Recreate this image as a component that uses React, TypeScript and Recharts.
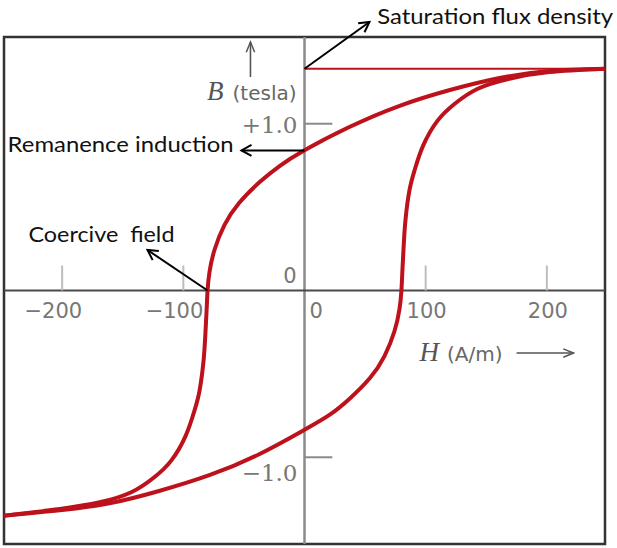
import React from 'react';
import { ComposedChart, Line, XAxis, YAxis, ReferenceLine, ReferenceDot, ReferenceArea } from 'recharts';

// Axis domains
const hDomain: [number, number] = [-248, 248];
const bDomain: [number, number] = [-1.52, 1.52];

// Descending branch (from +saturation to -saturation)
const upperH = [248, 202, 161, 120, 78, 37, 0, -20.6, -37, -54, -66, -74.3, -78.4, -80, -80.8, -81.8, -83.3, -86.6, -90.8, -98, -110, -124, -143, -169, -202, -248];
const upperB = [1.33, 1.316, 1.274, 1.202, 1.106, 0.98, 0.841, 0.746, 0.65, 0.525, 0.393, 0.243, 0.111, 0, -0.12, -0.26, -0.42, -0.6, -0.72, -0.87, -1.02, -1.12, -1.21, -1.27, -1.31, -1.35];

// Ascending branch (from -saturation to +saturation)
const lowerH = [-248, -202, -161, -120, -78, -37, 0, 20.6, 37, 54, 66, 74.3, 78.4, 80, 80.8, 81.8, 83.3, 86.6, 90.8, 98, 110, 124, 143, 169, 202, 248];
const lowerB = [-1.35, -1.318, -1.276, -1.202, -1.106, -0.98, -0.835, -0.746, -0.65, -0.525, -0.393, -0.243, -0.111, 0, 0.12, 0.26, 0.42, 0.6, 0.72, 0.87, 1.02, 1.12, 1.21, 1.27, 1.31, 1.33];

// Saturation level line
const satH = [0, 248];
const satB = [1.33, 1.33];

// Tick values and labels
const hTicks = [-200, -100, 100, 200];
const hTickLabels = ['−200', '−100', '100', '200'];
const bTicks = [1, -1];
const bTickLabels = ['+1.0', '−1.0'];

const toRows = (hs: number[], bs: number[]) => hs.map((h, i) => ({ h, b: bs[i] }));
const upperData = toRows(upperH, upperB);
const lowerData = toRows(lowerH, lowerB);
const satData = toRows(satH, satB);

const RED = '#bd111b';
const GRAY_TXT = '#777';
const ANN_FONT = 'Lato, "Open Sans", sans-serif';

function textDot(key: string, x: number, y: number, render: (cx: number, cy: number) => React.ReactElement) {
  return (
    <ReferenceDot
      key={key}
      x={x}
      y={y}
      r={0}
      ifOverflow="visible"
      fill="none"
      stroke="none"
      shape={(p: any) => render(p.cx, p.cy)}
    />
  );
}

function arrowSeg(key: string, x1: number, y1: number, x2: number, y2: number, color: string, marker: string, width = 2) {
  return (
    <ReferenceLine
      key={key}
      segment={[{ x: x1, y: y1 }, { x: x2, y: y2 }]}
      ifOverflow="visible"
      stroke={color}
      shape={(p: any) => (
        <line x1={p.x1} y1={p.y1} x2={p.x2} y2={p.y2} stroke={color} strokeWidth={width} markerEnd={`url(#${marker})`} />
      )}
    />
  );
}

export default function App() {
  return (
    <div style={{ position: 'absolute', left: 0, top: 0, width: 617, height: 548, background: '#fff' }}>
      <svg width={0} height={0} style={{ position: 'absolute' }}>
        <defs>
          <marker id="ahBlack" viewBox="0 0 14 14" refX="12" refY="7" markerWidth="14" markerHeight="14" markerUnits="userSpaceOnUse" orient="auto">
            <path d="M2,1.5 L12,7 L2,12.5" fill="none" stroke="#000" strokeWidth="2" />
          </marker>
          <marker id="ahGray" viewBox="0 0 14 14" refX="12" refY="7" markerWidth="13" markerHeight="13" markerUnits="userSpaceOnUse" orient="auto">
            <path d="M1,2.5 L12,7 L1,11.5" fill="none" stroke="#555" strokeWidth="1.6" />
          </marker>
        </defs>
      </svg>
      <ComposedChart width={617} height={548} margin={{ top: 37, right: 12, bottom: 4, left: 4 }}>
        <XAxis dataKey="h" type="number" domain={hDomain} allowDataOverflow hide />
        <YAxis type="number" domain={bDomain} allowDataOverflow hide />

        <ReferenceArea x1={hDomain[0]} x2={hDomain[1]} y1={bDomain[0]} y2={bDomain[1]} fill="none" fillOpacity={0} stroke="#333" strokeWidth={2.5} ifOverflow="visible" />
        <ReferenceLine x={0} stroke="#8a8a8a" strokeWidth={2.5} />
        <ReferenceLine y={0} stroke="#4a4a4a" strokeWidth={2} />

        {hTicks.map((t) => (
          <ReferenceLine key={`ht${t}`} segment={[{ x: t, y: 0 }, { x: t, y: 0.15 }]} stroke="#bdbdbd" strokeWidth={2} />
        ))}
        {bTicks.map((t) => (
          <ReferenceLine key={`bt${t}`} segment={[{ x: 0, y: t }, { x: 23, y: t }]} stroke="#8a8a8a" strokeWidth={2} />
        ))}

        <Line data={satData} dataKey="b" type="linear" stroke={RED} strokeWidth={2} dot={false} isAnimationActive={false} />
        <Line data={upperData} dataKey="b" type="natural" stroke={RED} strokeWidth={4} dot={false} isAnimationActive={false} />
        <Line data={lowerData} dataKey="b" type="natural" stroke={RED} strokeWidth={4} dot={false} isAnimationActive={false} />

        {hTicks.map((t, i) =>
          textDot(`hl${t}`, t, 0, (cx, cy) => (
            <text x={t < 0 ? cx + 20 : cx + 1} y={cy + 27} textAnchor={t < 0 ? 'end' : 'middle'} fontFamily="DejaVu Sans" fontSize={21} fill={GRAY_TXT}>
              {hTickLabels[i]}
            </text>
          ))
        )}
        {textDot('h0', 0, 0, (cx, cy) => (
          <text x={cx + 5} y={cy + 27} textAnchor="start" fontFamily="DejaVu Sans" fontSize={21} fill={GRAY_TXT}>0</text>
        ))}
        {textDot('b0', 0, 0, (cx, cy) => (
          <text x={cx - 8} y={cy - 8} textAnchor="end" fontFamily="DejaVu Sans" fontSize={21} fill={GRAY_TXT}>0</text>
        ))}
        {bTicks.map((t, i) =>
          textDot(`bl${t}`, 0, t, (cx, cy) => (
            <text x={cx - 7} y={t > 0 ? cy + 9 : cy + 24} textAnchor="end" fontFamily="DejaVu Serif" fontSize={23} fill={GRAY_TXT}>
              {bTickLabels[i]}
            </text>
          ))
        )}

        {/* B axis title */}
        {textDot('btitle', -6.6, 1.142, (cx, cy) => (
          <text x={cx} y={cy} textAnchor="end" fill="#666">
            <tspan fontFamily="Liberation Serif" fontStyle="italic" fontSize={27} fill="#555">B</tspan>
            <tspan fontFamily="DejaVu Sans" fontSize={20} dx={9}>(tesla)</tspan>
          </text>
        ))}
        {arrowSeg('bArrow', -44.6, 1.28, -44.6, 1.49, '#555', 'ahGray', 1.6)}

        {/* H axis title */}
        {textDot('htitle', 94.9, -0.423, (cx, cy) => (
          <text x={cx} y={cy} textAnchor="start" fill="#666">
            <tspan fontFamily="Liberation Serif" fontStyle="italic" fontSize={27} fill="#555">H</tspan>
            <tspan fontFamily="DejaVu Sans" fontSize={20} dx={8}>(A/m)</tspan>
          </text>
        ))}
        {arrowSeg('hArrow', 175, -0.375, 222, -0.375, '#555', 'ahGray', 1.6)}

        {/* Annotations */}
        {arrowSeg('satArrow', 0, 1.33, 53.6, 1.61, '#000', 'ahBlack', 2)}
        {textDot('satText', 60, 1.598, (cx, cy) => (
          <text x={cx} y={cy} fontFamily={ANN_FONT} fontSize={22} fill="#111" textLength={236} lengthAdjust="spacingAndGlyphs">Saturation flux density</text>
        ))}

        {arrowSeg('remArrow', 0, 0.84, -52, 0.84, '#000', 'ahBlack', 2)}
        {textDot('remText', -245, 0.83, (cx, cy) => (
          <text x={cx} y={cy} fontFamily={ANN_FONT} fontSize={22} fill="#111" textLength={226} lengthAdjust="spacingAndGlyphs">Remanence induction</text>
        ))}

        {arrowSeg('coArrow', -80, 0, -129.6, 0.243, '#000', 'ahBlack', 2)}
        {textDot('coText', -227.8, 0.29, (cx, cy) => (
          <text x={cx} y={cy} fontFamily={ANN_FONT} fontSize={22} fill="#111" textLength={146} lengthAdjust="spacingAndGlyphs" style={{ whiteSpace: 'pre' }}>Coercive  field</text>
        ))}
      </ComposedChart>
    </div>
  );
}
